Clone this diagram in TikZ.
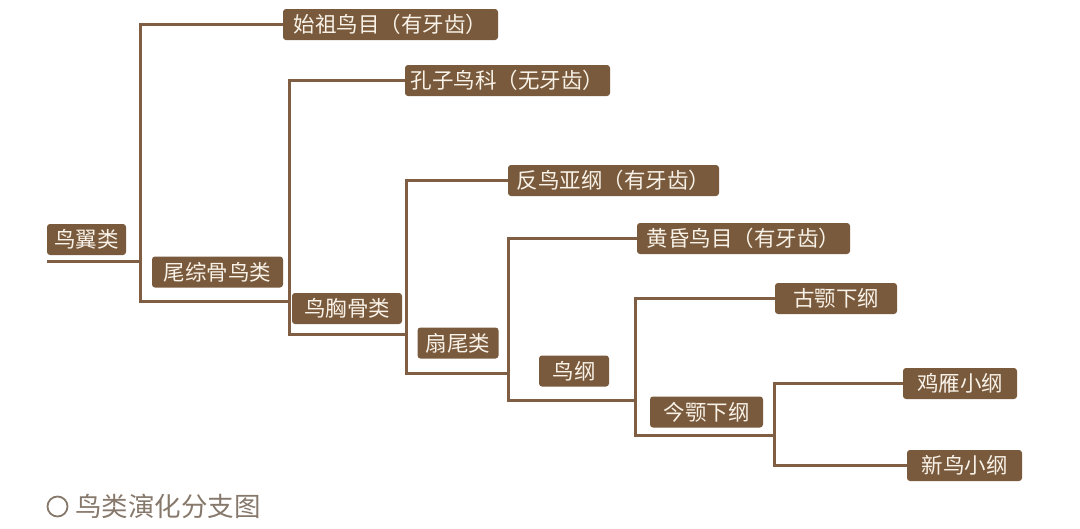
\documentclass[tikz,border=0pt]{standalone}
\usepackage{fontspec}
\setmainfont{Noto Sans CJK SC}
\definecolor{brx}{RGB}{122,90,60}
\definecolor{lnx}{RGB}{128,94,68}
\definecolor{txx}{RGB}{248,242,232}
\definecolor{cpx}{RGB}{135,120,108}

\begin{document}
\begin{tikzpicture}[x=1pt,y=-1pt,
    box/.style={fill=brx,text=txx,rounded corners=3pt,minimum height=31pt,
        inner sep=0pt,font=\fontsize{21.5}{21.5}\selectfont},
    ln/.style={draw=lnx,line width=3pt}
]
\useasboundingbox (0,0) rectangle (1080,528);
% boxes on the ends of the branches
\node[box,minimum width=215pt] (a) at (390.5,24.5) {始祖鸟目（有牙齿）};
\node[box,minimum width=205pt] (b) at (507.5,80.5) {孔子鸟科（无牙齿）};
\node[box,minimum width=211pt] (c) at (613.5,180.5) {反鸟亚纲（有牙齿）};
\node[box,minimum width=213pt] (d) at (743.5,238.5) {黄昏鸟目（有牙齿）};
\node[box,minimum width=122pt] (e) at (836,298.5) {古颚下纲};
\node[box,minimum width=114pt] (f) at (960,383.5) {鸡雁小纲};
\node[box,minimum width=115pt] (g) at (964.5,465.5) {新鸟小纲};
% boxes on the inner branches
\node[box,minimum width=79pt] (n0) at (86.5,239.5) {鸟翼类};
\node[box,minimum width=131pt] (n1) at (217.5,272) {尾综骨鸟类};
\node[box,minimum width=110pt] (n2) at (347,308.5) {鸟胸骨类};
\node[box,minimum width=81pt] (n3) at (458,343) {扇尾类};
\node[box,minimum width=70pt] (n4) at (574,371) {鸟纲};
\node[box,minimum width=113pt] (n5) at (706.5,412) {今颚下纲};
% corners of the tree
\coordinate (r0) at (47,261);
\coordinate (v1) at (140,301);
\coordinate (v2) at (289,334);
\coordinate (v3) at (406,373);
\coordinate (v4) at (508,400);
\coordinate (v5) at (635,435);
\coordinate (v6) at (774,465.5);
\draw[ln] (r0) -- (r0 -| v1);
\draw[ln] (a.west) -| (v1) -- (v1 -| v2);
\draw[ln] (b.west) -| (v2) -- (v2 -| v3);
\draw[ln] (c.west) -| (v3) -- (v3 -| v4);
\draw[ln] (d.west) -| (v4) -- (v4 -| v5);
\draw[ln] (e.west) -| (v5) -- (v5 -| v6);
\draw[ln] (f.west) -| (v6) -- (g.west);
% caption
\draw[cpx,line width=1.8pt] (57.5,506.5) circle (10);
\node[anchor=west,inner sep=0pt,text=cpx,font=\fontsize{26.5}{26.5}\selectfont] (cap) at (75,506.5) {鸟类演化分支图};
\end{tikzpicture}
\end{document}
